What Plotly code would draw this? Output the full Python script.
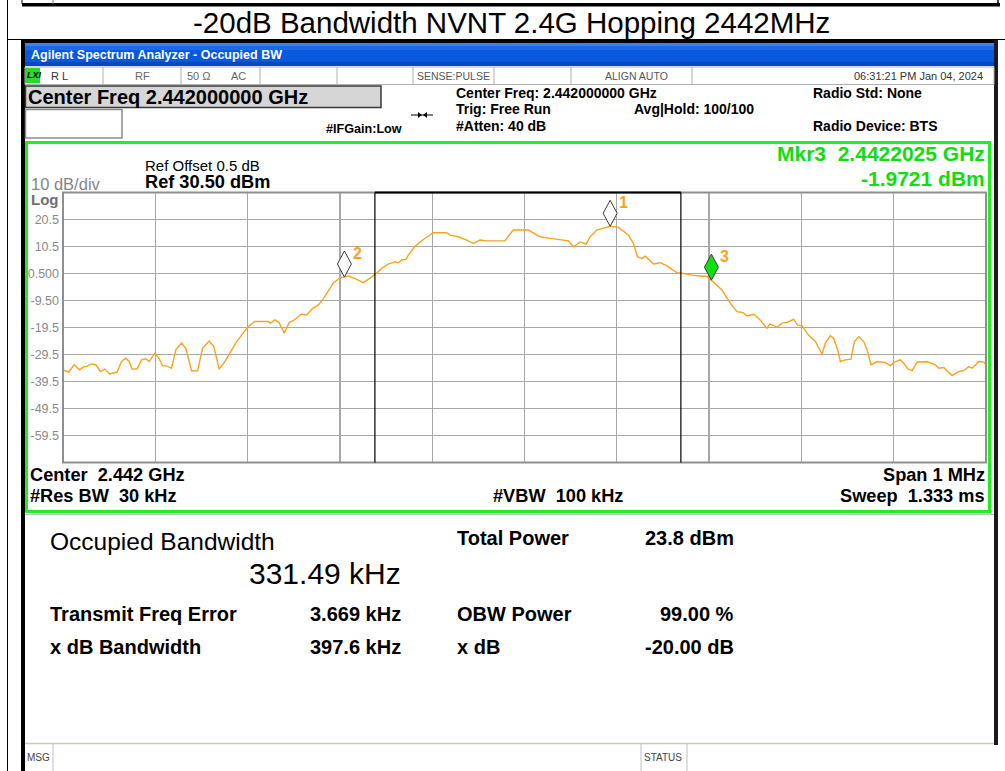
import plotly.graph_objects as go

W, H = 1005, 771

# ---------------- data ----------------
freq_khz = [-500, -493.8, -488.0, -481.9, -477.5, -474.6, -469.2, -464.5, -459.4, -454.8,
            -449.3, -441.4, -436.6, -432.0, -428.4, -425.2, -419.7, -415.0, -410.3, -406.7,
            -400.5, -395.9, -392.2, -387.9, -382.4, -377.8, -371.6, -366.9, -360.7, -354.2,
            -348.8, -341.7, -336.6, -330.8, -324.6, -311.9, -299.4, -292.1, -277.7, -275.1,
            -270.4, -265.8, -260.3, -254.9, -250.6, -241.5, -236.1, -229.5, -223.5, -218.1,
            -207.2, -199.9, -195.1, -190.9, -181.8, -174.7, -169.3, -161.2, -154.7, -147.6,
            -140.3, -136.7, -133.0, -128.4, -125.9, -118.6, -109.6, -98.8, -84.3, -80.7,
            -71.7, -62.6, -55.4, -48.1, -40.9, -21.0, -17.5, -12.0, 4.2, 16.9,
            27.8, 47.6, 53.0, 60.3, 66.8, 71.1, 78.4, 92.8, 101.8, 112.7,
            118.1, 122.4, 127.2, 130.8, 139.8, 147.0, 154.3, 165.1, 170.6, 181.4,
            190.4, 197.7, 202.5, 213.9, 222.9, 230.2, 236.7, 241.0, 248.2, 253.6,
            259.0, 262.7, 265.5, 269.2, 273.6, 279.0, 284.4, 291.6, 295.9, 300.7,
            307.8, 315.1, 322.4, 325.9, 331.4, 334.9, 339.3, 342.2, 347.6, 353.8,
            357.4, 362.0, 367.5, 371.2, 375.5, 382.0, 391.0, 396.4, 401.8, 407.3,
            410.8, 415.2, 420.0, 425.4, 436.2, 445.2, 448.8, 454.2, 458.5, 463.3,
            470.5, 475.9, 481.3, 485.0, 492.2, 497.6, 500]

level_dbm = [-35.2, -36.0, -33.3, -35.2, -34.0, -34.0, -33.0, -33.3, -35.8, -34.9,
             -36.7, -36.0, -32.1, -30.9, -32.1, -34.9, -34.8, -31.5, -31.1, -32.1,
             -29.0, -30.9, -33.7, -33.7, -34.6, -27.8, -25.3, -27.2, -35.6, -35.5,
             -27.2, -24.5, -26.6, -34.9, -32.1, -24.7, -19.2, -17.3, -17.3, -17.9,
             -16.7, -17.7, -21.6, -17.7, -17.0, -14.5, -14.9, -12.4, -11.2, -8.9,
             -3.1, -1.1, -0.8, -0.4, -1.7, -2.9, -1.7, 0.3, 2.4, 4.0,
             4.8, 4.5, 5.5, 5.7, 7.3, 10.6, 13.1, 15.6, 15.6, 14.7,
             14.1, 12.9, 11.6, 12.9, 12.6, 12.6, 14.3, 16.6, 16.6, 14.1,
             13.5, 12.6, 10.4, 12.2, 11.4, 14.1, 16.6, 18.0, 17.6, 14.7,
             11.6, 6.7, 6.1, 6.9, 4.0, 4.5, 3.3, 0.8, 0.6, -0.1,
             -0.4, -0.6, -1.97, -5.6, -10.5, -13.6, -14.0, -15.2, -14.6, -16.1,
             -18.2, -19.8, -18.2, -18.6, -19.4, -17.9, -17.6, -16.5, -18.6, -18.9,
             -22.3, -24.7, -29.4, -25.3, -22.6, -23.5, -27.8, -32.1, -31.5, -31.2,
             -24.7, -22.9, -24.7, -27.8, -33.3, -32.1, -32.5, -33.6, -32.1, -31.5,
             -32.7, -34.8, -35.5, -32.3, -32.2, -33.3, -34.6, -34.3, -35.8, -37.3,
             -35.8, -35.5, -34.0, -34.6, -32.1, -32.3, -33.3]

# occupied bandwidth 331.49 kHz centred on the 3.669 kHz frequency error
obw_khz = 331.49
freq_error_khz = 3.669

marker_names = ["1", "2", "3"]
marker_freq_khz = [92.8, -195.1, 202.5]
marker_level_dbm = [18.0, -0.8, -1.97]
marker_fill = ["white", "white", "#10e010"]

ytick_vals = [20.5, 10.5, 0.5, -9.5, -19.5, -29.5, -39.5, -49.5, -59.5]
ytick_text = ["20.5", "10.5", "0.500", "-9.50", "-19.5", "-29.5", "-39.5", "-49.5", "-59.5"]

# ---------------- helpers (pixel -> paper) ----------------
def PX(x):
    return x / W

def PY(y):
    return 1 - y / H

FONT = "Liberation Sans, Arial, sans-serif"
shapes = []
annotations = []

def rect(x0, y0, x1, y1, fill=None, line=None, lw=1, layer="above"):
    shapes.append(dict(type="rect", xref="paper", yref="paper",
                       x0=PX(x0), x1=PX(x1), y0=PY(y0), y1=PY(y1),
                       fillcolor=fill if fill else "rgba(0,0,0,0)",
                       line=dict(color=line if line else "rgba(0,0,0,0)", width=lw if line else 0),
                       layer=layer))

def seg(x0, y0, x1, y1, color="black", lw=1, layer="above"):
    shapes.append(dict(type="line", xref="paper", yref="paper",
                       x0=PX(x0), x1=PX(x1), y0=PY(y0), y1=PY(y1),
                       line=dict(color=color, width=lw), layer=layer))

def text(t, x, y, size, color="black", bold=False, xanchor="left", italic=False, family=FONT):
    if bold:
        t = "<b>" + t + "</b>"
    if italic:
        t = "<i>" + t + "</i>"
    annotations.append(dict(text=t, x=PX(x), y=PY(y), xref="paper", yref="paper",
                            xanchor=xanchor, yanchor="middle", showarrow=False,
                            font=dict(family=family, size=size, color=color), borderpad=0))

# ---------------- outer table / page frame ----------------
seg(7.5, 0, 7.5, H, "black", 1)
rect(22, 3, 1000, 6.5, fill="black")
seg(22, 0, 22, 4, "black", 1)
seg(53, 0, 53, 4, "#777", 1)
seg(998, 0, 998, 4, "black", 1.5)
seg(7.5, 39.5, W, 39.5, "black", 1)
text("-20dB Bandwidth NVNT 2.4G Hopping 2442MHz", 511, 22, 29.5, "black", xanchor="center")

# screenshot border
rect(21, 40, 998, 43, fill="black")
rect(21, 40, 25, H, fill="black")
rect(994, 40, 998, 745, fill="#1a1a1a")

# title bar (XP-blue gradient approximated with bands)
rect(25, 43, 994, 46, fill="#3b82f0")
rect(25, 46, 994, 50, fill="#1c6ae8")
rect(25, 50, 994, 62, fill="#0a58dc")
rect(25, 62, 994, 66, fill="#0548c6")
text("Agilent Spectrum Analyzer - Occupied BW", 30, 55, 12.5, "white", bold=True)

# status row
rect(25, 67, 994, 84.5, fill="white", line="#b0b0b0", lw=1)
rect(25, 68, 40, 83, fill="#22dd22")
text("LXI", 26, 75.5, 9, "black", bold=True, italic=True)
for sx in [103, 181, 260, 337, 413, 494, 571, 692]:
    seg(sx, 67, sx, 84.5, "#b0b0b0", 1)
text("R L", 50, 76, 11, "#333")
text("RF", 134, 76, 11, "#666")
text("50 Ω", 186, 76, 11, "#666")
text("AC", 230, 76, 11, "#666")
text("SENSE:PULSE", 416, 76, 10.5, "#555")
text("ALIGN AUTO", 604, 76, 10.5, "#555")
text("06:31:21 PM Jan 04, 2024", 984, 76, 11, "#333", xanchor="right")

# control row
rect(25.5, 86, 381, 107.5, fill="#d6d6d6", line="#3a3a3a", lw=1.5)
text("Center Freq 2.442000000 GHz", 27, 97, 20, "black", bold=True)
rect(25.5, 109.5, 122, 138, fill="white", line="#8a8a8a", lw=1.5)
text("Center Freq: 2.442000000 GHz", 455, 93, 14, "black", bold=True)
text("Trig: Free Run", 455, 109.5, 14, "black", bold=True)
text("Avg|Hold: 100/100", 633, 109.5, 14, "black", bold=True)
text("#Atten: 40 dB", 455, 126, 14, "black", bold=True)
text("#IFGain:Low", 325, 129, 12.6, "black", bold=True)
text("Radio Std: None", 812, 93, 14, "black", bold=True)
text("Radio Device: BTS", 812, 126, 14, "black", bold=True)
seg(411, 115, 433, 115, "black", 1)
shapes.append(dict(type="path", xref="paper", yref="paper",
                   path="M %f,%f L %f,%f L %f,%f Z" % (PX(418), PY(112), PX(422), PY(115), PX(418), PY(118)),
                   fillcolor="black", line=dict(width=0), layer="above"))
shapes.append(dict(type="path", xref="paper", yref="paper",
                   path="M %f,%f L %f,%f L %f,%f Z" % (PX(427), PY(112), PX(423), PY(115), PX(427), PY(118)),
                   fillcolor="black", line=dict(width=0), layer="above"))

# plot panel texts
text("Ref Offset 0.5 dB", 144, 165, 15, "black")
text("Ref 30.50 dBm", 144, 182, 18.2, "black", bold=True)
text("10 dB/div", 30, 183.5, 16.5, "#858585")
text("Log", 30, 200, 15, "#707070", bold=True)
text("Mkr3\u00a0 2.4422025 GHz", 986, 154, 21, "#11dd11", bold=True, xanchor="right")
text("-1.9721 dBm", 986, 178.5, 21, "#11dd11", bold=True, xanchor="right")
text("Center\u00a0 2.442 GHz", 29, 475, 18.2, "black", bold=True)
text("#Res BW\u00a0 30 kHz", 29, 496, 18.2, "black", bold=True)
text("#VBW\u00a0 100 kHz", 492, 496, 18.2, "black", bold=True)
text("Span 1 MHz", 986, 475, 18.2, "black", bold=True, xanchor="right")
text("Sweep\u00a0 1.333 ms", 986, 496, 18.2, "black", bold=True, xanchor="right")

# green panel frame (drawn above tick labels so "0.500" is clipped like the original)
rect(26.5, 142.5, 989.5, 511.5, line="#22ee22", lw=3)
seg(25, 514.5, 994, 514.5, "#bdbdbd", 1)

# results panel
text("Occupied Bandwidth", 49, 541, 24.5, "black")
text("331.49 kHz", 402, 573, 30, "black", xanchor="right")
text("Total Power", 456, 538, 20, "black", bold=True)
text("23.8 dBm", 735, 538, 20, "black", bold=True, xanchor="right")
text("Transmit Freq Error", 49, 614, 20, "black", bold=True)
text("3.669 kHz", 402, 614, 20, "black", bold=True, xanchor="right")
text("OBW Power", 456, 614, 20, "black", bold=True)
text("99.00 %", 735, 614, 20, "black", bold=True, xanchor="right")
text("x dB Bandwidth", 49, 647, 20, "black", bold=True)
text("397.6 kHz", 402, 647, 20, "black", bold=True, xanchor="right")
text("x dB", 456, 647, 20, "black", bold=True)
text("-20.00 dB", 735, 647, 20, "black", bold=True, xanchor="right")

# bottom status bar
seg(25, 743.5, 994, 743.5, "#cfc8b8", 1.5)
seg(53, 744, 53, H, "#c0c0c0", 1)
seg(641, 744, 641, H, "#c0c0c0", 1)
seg(687, 744, 687, H, "#c0c0c0", 1)
text("MSG", 26, 757, 10, "#444")
text("STATUS", 643, 757, 10, "#444")

# ---------------- the spectrum plot ----------------
fig = go.Figure()
fig.add_trace(go.Scatter(x=freq_khz, y=level_dbm, mode="lines",
                         line=dict(color="#f8a31c", width=1.4), hoverinfo="skip"))

# plot border
shapes.append(dict(type="rect", xref="x domain", yref="y domain", x0=0, x1=1, y0=0, y1=1,
                   line=dict(color="#8f8f8f", width=2), fillcolor="rgba(0,0,0,0)", layer="above"))

# OBW bracket
obw_lo = freq_error_khz - obw_khz / 2
obw_hi = freq_error_khz + obw_khz / 2
for fx in (obw_lo, obw_hi):
    shapes.append(dict(type="line", xref="x", yref="y domain", x0=fx, x1=fx, y0=0, y1=1,
                       line=dict(color="black", width=1.2), layer="above"))
shapes.append(dict(type="line", xref="x", yref="y domain", x0=obw_lo, x1=obw_hi, y0=1, y1=1,
                   line=dict(color="black", width=2), layer="above"))

# markers (tall diamonds sitting on the trace point)
for name, mf, ml, fc in zip(marker_names, marker_freq_khz, marker_level_dbm, marker_fill):
    shapes.append(dict(type="path", xref="x", yref="y", xsizemode="pixel", ysizemode="pixel",
                       xanchor=mf, yanchor=ml, path="M 0,0 L 7,13 L 0,26 L -7,13 Z",
                       fillcolor=fc, line=dict(color="#3a3a3a", width=1), layer="above"))
    annotations.append(dict(text="<b>" + name + "</b>", x=mf, y=ml, xref="x", yref="y",
                            xshift=13, yshift=24, showarrow=False,
                            font=dict(family=FONT, size=16, color="#f8a31c")))

fig.update_layout(
    width=W, height=H, margin=dict(l=0, r=0, t=0, b=0),
    paper_bgcolor="white", plot_bgcolor="white", showlegend=False, hovermode=False,
    font=dict(family=FONT),
    xaxis=dict(domain=[PX(63), PX(986)], range=[-500, 500], tick0=0, dtick=100,
               showgrid=True, gridcolor="#a8a8a8", gridwidth=1.3, zeroline=False,
               showticklabels=False, showline=False, fixedrange=True),
    yaxis=dict(domain=[PY(462.5), PY(192.5)], range=[-69.5, 30.5],
               tickvals=ytick_vals, ticktext=ytick_text, ticks="", ticklabelstandoff=3,
               tickfont=dict(family=FONT, size=12.5, color="#8a8a8a"),
               showgrid=True, gridcolor="#a8a8a8", gridwidth=1.3, zeroline=False,
               showline=False, fixedrange=True),
    shapes=shapes, annotations=annotations,
)

# remove the browser's default 8px page margin so the figure sits at the window origin
fig.write_html("out.html", config={"displayModeBar": False, "staticPlot": True},
               post_script="document.body.style.margin='0px';document.body.style.overflow='hidden';")
